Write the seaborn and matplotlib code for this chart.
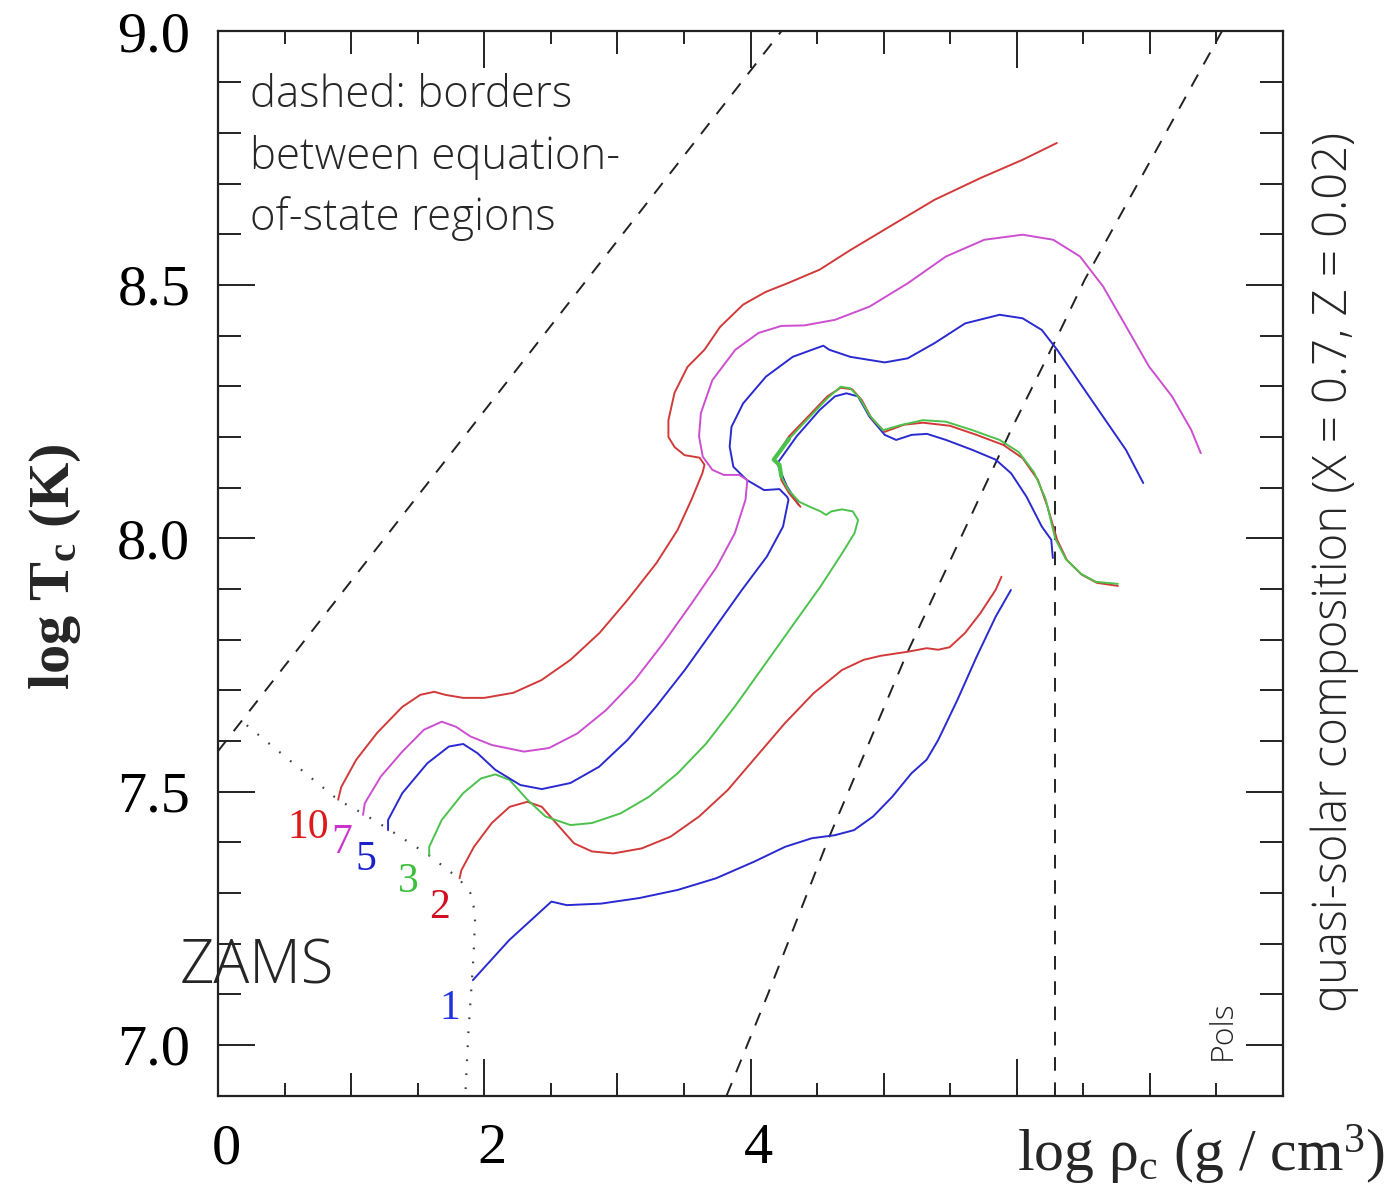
import numpy as np
import matplotlib
matplotlib.use("Agg")
import matplotlib.pyplot as plt
import matplotlib.transforms as mtransforms
import seaborn as sns

# evolution tracks in the (log rho_c, log T_c) plane
# 10 Msun (red)
rho_10 = [0.902, 0.925, 1.038, 1.195, 1.383, 1.519, 1.624, 1.707, 1.842, 2.000, 2.218, 2.429, 2.647,
          2.865, 3.075, 3.293, 3.451, 3.556, 3.639, 3.654, 3.617, 3.504, 3.429, 3.383, 3.383, 3.429,
          3.526, 3.654, 3.771, 3.944, 4.113, 4.286, 4.519, 4.752, 5.038, 5.383, 5.729, 6.045, 6.301]
T_10 = [7.484, 7.509, 7.563, 7.616, 7.667, 7.691, 7.697, 7.691, 7.685, 7.685, 7.695, 7.720, 7.760,
        7.813, 7.878, 7.951, 8.016, 8.076, 8.129, 8.145, 8.159, 8.164, 8.180, 8.200, 8.233, 8.287,
        8.338, 8.372, 8.417, 8.461, 8.486, 8.504, 8.530, 8.569, 8.614, 8.668, 8.711, 8.747, 8.780]

# 7 Msun (magenta)
rho_7 = [1.089, 1.102, 1.223, 1.384, 1.546, 1.680, 1.787, 1.895, 2.056, 2.298, 2.486, 2.700, 2.915,
         3.130, 3.345, 3.559, 3.747, 3.882, 3.962, 3.976, 3.914, 3.799, 3.713, 3.641, 3.613, 3.627,
         3.713, 3.886, 4.059, 4.231, 4.404, 4.634, 4.893, 5.180, 5.468, 5.756, 6.044, 6.274, 6.475,
         6.648, 6.821, 6.993, 7.166, 7.310, 7.382]
T_7 = [7.454, 7.477, 7.530, 7.579, 7.622, 7.638, 7.628, 7.609, 7.592, 7.579, 7.586, 7.615, 7.661,
       7.720, 7.793, 7.872, 7.944, 8.010, 8.076, 8.115, 8.125, 8.125, 8.135, 8.161, 8.201, 8.247,
       8.312, 8.372, 8.405, 8.419, 8.420, 8.431, 8.457, 8.503, 8.556, 8.589, 8.599, 8.589, 8.556,
       8.497, 8.418, 8.339, 8.280, 8.214, 8.168]

# 5 Msun (blue)
rho_5 = [1.277, 1.277, 1.384, 1.572, 1.734, 1.841, 1.948, 2.083, 2.271, 2.432, 2.647, 2.862, 3.076,
         3.291, 3.506, 3.721, 3.935, 4.123, 4.244, 4.285, 4.274, 4.217, 4.102, 3.972, 3.871, 3.843,
         3.857, 3.944, 4.116, 4.317, 4.462, 4.547, 4.591, 4.749, 5.008, 5.180, 5.382, 5.612, 5.871,
         6.044, 6.188, 6.303, 6.475, 6.648, 6.821, 6.950]
T_5 = [7.424, 7.444, 7.497, 7.556, 7.589, 7.594, 7.576, 7.543, 7.513, 7.505, 7.517, 7.549, 7.602,
       7.668, 7.740, 7.819, 7.898, 7.964, 8.023, 8.076, 8.082, 8.097, 8.095, 8.115, 8.141, 8.181,
       8.220, 8.266, 8.319, 8.358, 8.372, 8.380, 8.372, 8.358, 8.347, 8.355, 8.385, 8.424, 8.441,
       8.434, 8.411, 8.372, 8.306, 8.240, 8.174, 8.109]

# 3 Msun (green)
rho_3 = [1.586, 1.586, 1.680, 1.841, 1.975, 2.083, 2.190, 2.324, 2.459, 2.647, 2.808, 3.023, 3.238,
         3.452, 3.667, 3.882, 4.097, 4.311, 4.526, 4.687, 4.781, 4.808, 4.768, 4.687, 4.607, 4.567,
         4.526, 4.446, 4.365, 4.285, 4.231, 4.217, 4.174, 4.289, 4.432, 4.577, 4.677, 4.749, 4.821,
         4.893, 4.994, 5.123, 5.295, 5.468, 5.670, 5.871, 6.015, 6.130, 6.216, 6.289, 6.368, 6.481,
         6.594, 6.759]
T_3 = [7.375, 7.391, 7.444, 7.497, 7.526, 7.534, 7.523, 7.484, 7.451, 7.434, 7.438, 7.457, 7.490,
       7.536, 7.595, 7.668, 7.747, 7.826, 7.905, 7.970, 8.010, 8.036, 8.053, 8.057, 8.053, 8.046,
       8.053, 8.062, 8.072, 8.095, 8.122, 8.145, 8.155, 8.196, 8.236, 8.276, 8.299, 8.296, 8.276,
       8.243, 8.213, 8.223, 8.233, 8.230, 8.213, 8.194, 8.170, 8.130, 8.078, 7.999, 7.959, 7.930,
       7.914, 7.910]

# 2 Msun (red), before and after the jump to the helium-burning knot
rho_2 = [1.814, 1.828, 1.922, 2.056, 2.190, 2.324, 2.432, 2.539, 2.674, 2.808, 2.969, 3.183, 3.398,
         3.614, 3.828, 4.043, 4.258, 4.473, 4.687, 4.849, 4.977, 5.180, 5.323, 5.410, 5.496, 5.611,
         5.726, 5.841, 5.885]
T_2 = [7.329, 7.345, 7.391, 7.438, 7.470, 7.480, 7.470, 7.438, 7.398, 7.382, 7.378, 7.388, 7.411,
       7.451, 7.503, 7.569, 7.635, 7.694, 7.740, 7.760, 7.768, 7.776, 7.783, 7.780, 7.785, 7.813,
       7.852, 7.898, 7.924]
rho_2b = [4.375, 4.289, 4.231, 4.217, 4.174, 4.289, 4.432, 4.577, 4.677, 4.763, 4.835, 4.908, 5.008,
          5.152, 5.295, 5.497, 5.698, 5.900, 6.044, 6.159, 6.231, 6.303, 6.376, 6.489, 6.602, 6.759]
T_2b = [8.062, 8.089, 8.115, 8.141, 8.155, 8.201, 8.240, 8.280, 8.297, 8.294, 8.273, 8.237, 8.210,
        8.224, 8.228, 8.222, 8.204, 8.184, 8.158, 8.115, 8.062, 7.997, 7.957, 7.928, 7.912, 7.906]

# 1 Msun (blue), before and after the jump
rho_1 = [1.914, 2.187, 2.504, 2.619, 2.877, 3.165, 3.453, 3.741, 4.029, 4.259, 4.460, 4.633, 4.777,
         4.921, 5.065, 5.208, 5.323, 5.410, 5.554, 5.698, 5.841, 5.956]
T_1 = [7.128, 7.207, 7.283, 7.276, 7.279, 7.290, 7.306, 7.329, 7.362, 7.391, 7.408, 7.414, 7.424,
       7.451, 7.490, 7.536, 7.563, 7.602, 7.681, 7.766, 7.845, 7.898]
rho_1b = [4.361, 4.274, 4.231, 4.202, 4.346, 4.519, 4.634, 4.720, 4.807, 4.893, 5.008, 5.094, 5.210,
          5.325, 5.468, 5.670, 5.842, 5.958, 6.073, 6.188, 6.259, 6.271]
T_1b = [8.066, 8.102, 8.128, 8.148, 8.201, 8.253, 8.280, 8.286, 8.280, 8.240, 8.204, 8.194, 8.204,
        8.206, 8.194, 8.174, 8.155, 8.128, 8.082, 8.023, 7.997, 7.961]

# zero-age main sequence (dotted)
zams_rho = [0.215, 0.905, 1.080, 1.268, 1.581, 1.807, 1.895, 1.932, 1.920, 1.907, 1.880, 1.857]
zams_T = [7.631, 7.483, 7.458, 7.428, 7.375, 7.329, 7.300, 7.260, 7.181, 7.128, 7.024, 6.898]

# equation-of-state borders (dashed)
eos_rad_rho = [0.0, 4.23]
eos_rad_T = [7.58, 9.0]
eos_deg_rho = [3.82, 4.13, 4.59, 5.17, 5.95, 6.29, 6.51, 7.54]
eos_deg_T = [6.90, 7.10, 7.41, 7.77, 8.21, 8.39, 8.51, 9.00]
eos_rel_rho = [6.29, 6.29]
eos_rel_T = [6.90, 8.39]

# mass labels at the ZAMS
mass_labels = ["10", "7", "5", "3", "2", "1"]
label_rho = [0.68, 0.93, 1.11, 1.43, 1.66, 1.74]
label_T = [7.428, 7.399, 7.365, 7.322, 7.270, 7.072]
label_colors = ["#dd1a1a", "#cc33cc", "#1a22c8", "#3cbf3c", "#d01020", "#1f33dd"]

RED = "#d23a3a"
MAG = "#cc4fd0"
BLUE = "#2a2ad0"
GREEN = "#4cc24c"

sns.set_style("ticks")
plt.rcParams["font.family"] = ["Liberation Serif", "DejaVu Serif"]
plt.rcParams["lines.solid_joinstyle"] = "round"

fig = plt.figure(figsize=(13.89, 11.84), dpi=100)
ax = fig.add_axes([0.157, 0.0746, 0.7667, 0.8988])

lw = 1.4
def track(x, y, c, w=lw):
    sns.lineplot(x=x, y=y, sort=False, estimator=None, color=c, lw=w, ax=ax)

track(eos_rad_rho, eos_rad_T, "#222222")
track(eos_deg_rho, eos_deg_T, "#222222")
track(eos_rel_rho, eos_rel_T, "#222222")
for l in ax.lines:
    l.set_dashes((7, 6))
track(zams_rho, zams_T, "#444444", 1.6)
ax.lines[-1].set_dashes((0.8, 5.5))

track(rho_1, T_1, BLUE)
track(rho_1b, T_1b, BLUE)
track(rho_2, T_2, RED)
track(rho_2b, T_2b, RED)
track(rho_3, T_3, GREEN)
track(rho_3[30:34], T_3[30:34], GREEN, 3.0)
track(rho_5, T_5, BLUE)
track(rho_7, T_7, MAG)
track(rho_10, T_10, RED)

for s, x, y, c in zip(mass_labels, label_rho, label_T, label_colors):
    ax.text(x, y, s, color=c, fontsize=30, ha="center", va="center")

ax.set_xlim(0, 8)
ax.set_ylim(6.9, 9.0)
ax.set_xlabel("")
ax.set_ylabel("")

ax.set_xticks([0, 2, 4, 6, 8])
ax.set_xticklabels(["0", "2", "4", "", ""])
ax.set_xticks(np.arange(0.5, 8, 1.0), minor=True)
ax.set_yticks([7.0, 7.5, 8.0, 8.5, 9.0])
ax.set_yticklabels(["7.0", "7.5", "8.0", "8.5", "9.0"])
ax.set_yticks(np.arange(6.9, 9.0, 0.1), minor=True)

ax.tick_params(which="both", direction="in", top=True, right=True, width=1.4, colors="#222222",
               labelcolor="black", labelsize=42)
ax.tick_params(which="major", length=26.6)
ax.tick_params(axis="x", which="minor", length=9.4)
ax.tick_params(axis="y", which="minor", length=16.6)
ax.tick_params(axis="x", pad=20)
ax.tick_params(axis="y", pad=20)

# x tick labels sit a little right of their ticks in the original
shift = mtransforms.ScaledTranslation(0.08, 0, fig.dpi_scale_trans)
for lab in ax.get_xticklabels():
    lab.set_transform(lab.get_transform() + shift)

# medium ticks at the odd integers, top and bottom
frac = 23 / 1064
ax.vlines([1, 3, 5, 7], 0, frac, transform=ax.get_xaxis_transform(), color="#222222", lw=1.4)
ax.vlines([1, 3, 5, 7], 1 - frac, 1, transform=ax.get_xaxis_transform(), color="#222222", lw=1.4)

for sp in ax.spines.values():
    sp.set_linewidth(1.6)
    sp.set_color("#222222")

sans = ["Open Sans", "DejaVu Sans"]
ax.text(0.24, 8.918, "dashed: borders\nbetween equation-\nof-state regions", family=sans,
        weight="light", fontsize=31.5, ha="left", va="top", linespacing=1.5)
ax.text(-0.29, 7.152, "ZAMS", family=sans, weight="light", fontsize=43, ha="left", va="center",
        clip_on=False)
ax.text(7.55, 7.03, "Pols", family=sans, weight="light", fontsize=23, rotation=90,
        ha="center", va="center")

fig.text(0.961, 0.517, "quasi-solar composition (X = 0.7, Z = 0.02)", family=sans, weight="light",
         fontsize=34, rotation=90, ha="center", va="center")
fig.text(0.040, 0.521, r"log T$\mathregular{_c}$ (K)", fontsize=42, weight="bold", rotation=90,
         ha="center", va="center")
fig.text(0.997, 0.011, r"log ρ$\mathregular{_c}$ (g / cm$\mathregular{^3}$)", fontsize=43,
         ha="right", va="baseline")

fig.savefig("out.png", dpi=100)
